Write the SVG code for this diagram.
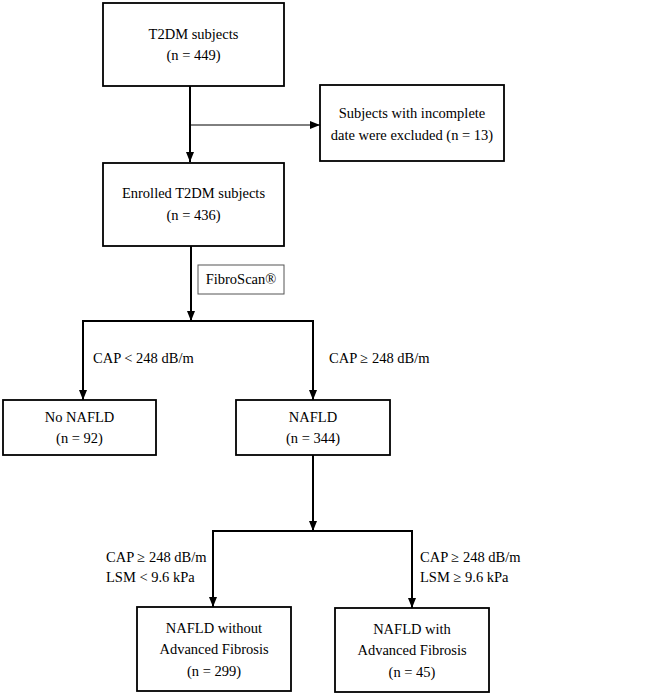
<svg xmlns="http://www.w3.org/2000/svg" width="671" height="695" viewBox="0 0 671 695" font-family="'Liberation Serif', 'Times New Roman', 'DejaVu Serif', serif">
<style>
.box{fill:#fff;stroke:#000;stroke-width:1.8}
.fs{fill:#fff;stroke:#555;stroke-width:1}
text{font-family:'Liberation Serif','Times New Roman','DejaVu Serif',serif;font-size:14.5px;fill:#000}
.c{text-anchor:middle}
.ln{fill:none;stroke:#000;stroke-width:2}
.thin{fill:none;stroke:#000;stroke-width:1}
</style>
<defs>
<marker id="ah" markerUnits="userSpaceOnUse" markerWidth="10" markerHeight="10" viewBox="0 0 10 10" refX="10" refY="5" orient="auto">
<path d="M0,1 L10,5 L0,9 Z" fill="#000"/>
</marker>
</defs>
<g id="connectors">
<line class="ln" x1="190" y1="86" x2="190" y2="162" marker-end="url(#ah)"/>
<line class="thin" x1="190" y1="125" x2="320" y2="125" marker-end="url(#ah)"/>
<line class="ln" x1="191" y1="246" x2="191" y2="321" marker-end="url(#ah)"/>
<polyline class="ln" points="83,400 83,321 313,321 313,400"/>
<line class="ln" x1="83" y1="330" x2="83" y2="400" marker-end="url(#ah)"/>
<line class="ln" x1="313" y1="330" x2="313" y2="400" marker-end="url(#ah)"/>
<line class="ln" x1="313" y1="455" x2="313" y2="531" marker-end="url(#ah)"/>
<polyline class="ln" points="213,607 213,531 412,531 412,608"/>
<line class="ln" x1="213" y1="540" x2="213" y2="607" marker-end="url(#ah)"/>
<line class="ln" x1="412" y1="540" x2="412" y2="608" marker-end="url(#ah)"/>
</g>
<g id="labels">
<text x="93" y="363">CAP &lt; 248 dB/m</text>
<text x="329" y="363">CAP ≥ 248 dB/m</text>
<text x="106" y="562">CAP ≥ 248 dB/m</text>
<text x="106" y="582">LSM &lt; 9.6 kPa</text>
<text x="420" y="562">CAP ≥ 248 dB/m</text>
<text x="420" y="582">LSM ≥ 9.6 kPa</text>
</g>
<g id="n-t2dm">
<rect class="box" x="103" y="3" width="181" height="83"/>
<text class="c" x="193.5" y="39">T2DM subjects</text>
<text class="c" x="193.5" y="60">(n = 449)</text>
</g>
<g id="n-excluded">
<rect class="box" x="320" y="85" width="184" height="76"/>
<text class="c" x="412" y="118">Subjects with incomplete</text>
<text class="c" x="412" y="140">date were excluded (n = 13)</text>
</g>
<g id="n-enrolled">
<rect class="box" x="103" y="163" width="181" height="83"/>
<text class="c" x="193.5" y="198">Enrolled T2DM subjects</text>
<text class="c" x="193.5" y="220">(n = 436)</text>
</g>
<g id="n-fibroscan">
<rect class="fs" x="198" y="265" width="86" height="29"/>
<text class="c" x="241" y="284">FibroScan®</text>
</g>
<g id="n-no-nafld">
<rect class="box" x="3" y="400" width="153" height="55"/>
<text class="c" x="79.5" y="422">No NAFLD</text>
<text class="c" x="79.5" y="443">(n = 92)</text>
</g>
<g id="n-nafld">
<rect class="box" x="236" y="400" width="154" height="55"/>
<text class="c" x="313" y="422">NAFLD</text>
<text class="c" x="313" y="443">(n = 344)</text>
</g>
<g id="n-without">
<rect class="box" x="137" y="607" width="154" height="84"/>
<text class="c" x="214" y="633">NAFLD without</text>
<text class="c" x="214" y="654">Advanced Fibrosis</text>
<text class="c" x="214" y="676">(n = 299)</text>
</g>
<g id="n-with">
<rect class="box" x="335" y="608" width="154" height="84"/>
<text class="c" x="412" y="634">NAFLD with</text>
<text class="c" x="412" y="655">Advanced Fibrosis</text>
<text class="c" x="412" y="677">(n = 45)</text>
</g>
</svg>
